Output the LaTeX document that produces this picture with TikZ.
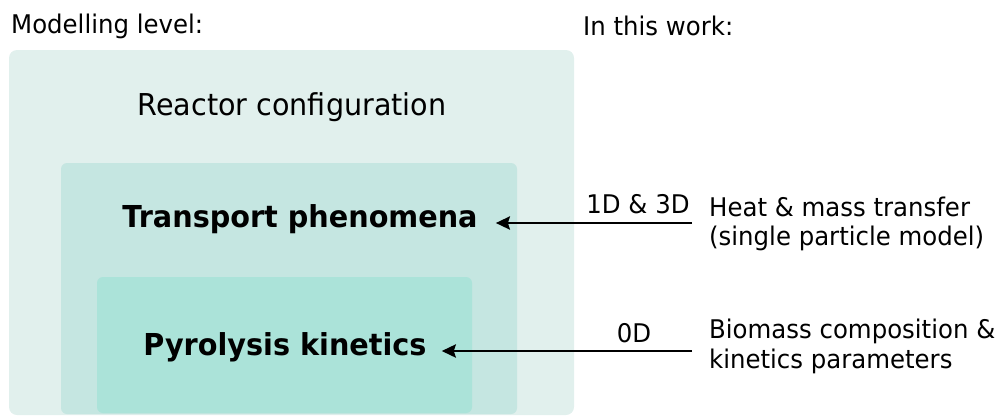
\documentclass[tikz,border=0pt]{standalone}
\usepackage{fontspec}
\setmainfont{DejaVu Sans}[FakeStretch=0.95]
\usetikzlibrary{arrows.meta}
\definecolor{lvlouter}{HTML}{E1F0ED}
\definecolor{lvlmiddle}{HTML}{C5E6E1}
\definecolor{lvlinner}{HTML}{ABE3D9}
\tikzset{
  small/.style={inner sep=0pt, font=\fontsize{25.7}{31}\selectfont},
  big/.style={inner sep=0pt, font=\fontsize{30.1}{36}\selectfont},
  heavy/.style={inner sep=0pt, font=\fontsize{30.2}{36}\selectfont\bfseries},
  link/.style={line width=2.8pt, -{Stealth[length=14pt,width=13pt,inset=2pt]}},
}
\begin{document}
\begin{tikzpicture}[x=1pt,y=-1pt]
\useasboundingbox (0,0) rectangle (1001,416);
% nested modelling levels
\fill[lvlouter, rounded corners=8pt] (9,50) rectangle (574,415);
\fill[lvlmiddle, rounded corners=6pt] (61,163) rectangle (517,414);
\fill[lvlinner, rounded corners=6pt] (97,277) rectangle (472,413);
% headings
\node[small, anchor=base west] (mlev) at (11,33) {Modelling level:};
\node[small, anchor=base west] (work) at (583,35) {In this work:};
% level titles
\node[big, anchor=base] (rc) at (292,115) {Reactor configuration};
\node[heavy, anchor=base] (tp) at (300,227) {Transport phenomena};
\node[heavy, anchor=base] (pk) at (285,355) {Pyrolysis kinetics};
% descriptions on the right
\node[small, anchor=base west] (heat) at (709,216) {Heat \& mass transfer};
\node[small, anchor=base west] (heat2) at (709,245) {(single particle model)};
\node[small, anchor=base west] (bio) at (709,338) {Biomass composition \&};
\node[small, anchor=base west] (bio2) at (709,368) {kinetics parameters};
% dimension labels
\node[small, anchor=base] (d13) at (638,213) {1D \& 3D};
\node[small, anchor=base] (d0) at (634,342) {0D};
% connectors
\coordinate (s1) at ([xshift=-17pt]heat.west |- 0,223);
\coordinate (e1) at ([xshift=18pt]tp.east |- 0,223);
\coordinate (s2) at ([xshift=-17pt]bio.west |- 0,351);
\coordinate (e2) at ([xshift=15pt]pk.east |- 0,351);
\draw[link] (s1) -- (e1);
\draw[link] (s2) -- (e2);
\end{tikzpicture}
\end{document}
